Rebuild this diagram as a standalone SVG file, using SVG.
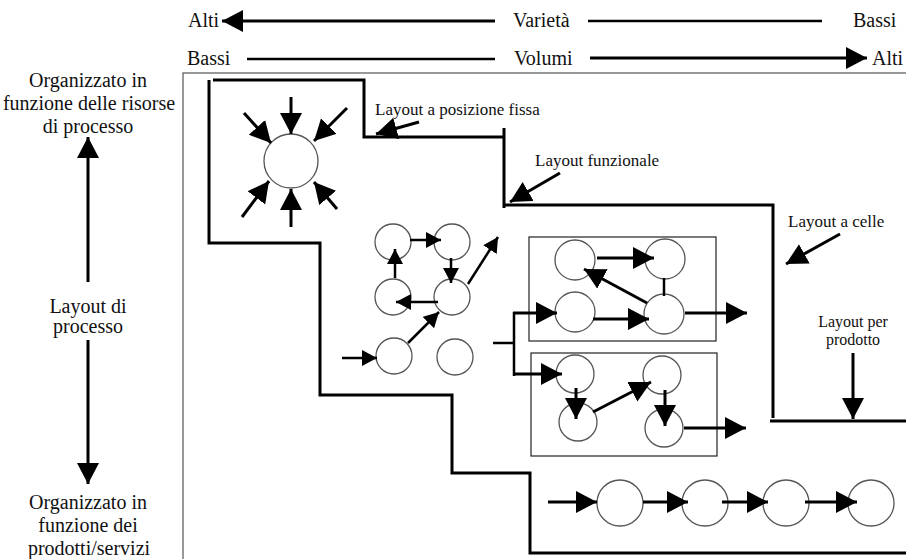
<svg xmlns="http://www.w3.org/2000/svg" width="906" height="559" viewBox="0 0 906 559">
  <style>
    text { font-family: "Liberation Serif", "DejaVu Serif", serif; font-size: 17px; fill: #111; }
    .big { font-size: 20px; }
    .sm { font-size: 16px; }
    .mid { text-anchor: middle; }
    .wall { fill: none; stroke: #000; stroke-width: 3; stroke-linejoin: miter; }
    .arr { fill: none; stroke: #000; stroke-width: 3; marker-end: url(#big); }
    .arr2 { fill: none; stroke: #000; stroke-width: 2.5; marker-end: url(#small); }
    .ln { fill: none; stroke: #000; stroke-width: 2.5; }
    .st { fill: #fff; stroke: #555; stroke-width: 1.3; }
    .cell { fill: none; stroke: #222; stroke-width: 1.2; }
    .frame { fill: none; stroke: #555; stroke-width: 1.2; }
  </style>
  <defs>
    <marker id="big" markerUnits="userSpaceOnUse" markerWidth="24" markerHeight="24" refX="21" refY="11" orient="auto">
      <path d="M0,0 L21,11 L0,22 Z" fill="#000"/>
    </marker>
    <marker id="small" markerUnits="userSpaceOnUse" markerWidth="18" markerHeight="18" refX="15" refY="8" orient="auto">
      <path d="M0,0 L15,8 L0,16 Z" fill="#000"/>
    </marker>
  </defs>

  <rect width="906" height="559" fill="#fff"/>

  <!-- axes along the top: variety and volume -->
  <g id="axis-varieta">
    <text class="big" x="188" y="27">Alti</text>
    <line class="arr" x1="495" y1="21" x2="222" y2="21"/>
    <text class="big" x="513" y="27">Varietà</text>
    <line class="ln" x1="588" y1="21" x2="822" y2="21" stroke-width="3"/>
    <text class="big" x="853" y="27">Bassi</text>
  </g>
  <g id="axis-volumi">
    <text class="big" x="187" y="65">Bassi</text>
    <line class="ln" x1="247" y1="59" x2="495" y2="59" stroke-width="3"/>
    <text class="big" x="514" y="65">Volumi</text>
    <line class="arr" x1="590" y1="58" x2="867" y2="58"/>
    <text class="big" x="872" y="65">Alti</text>
  </g>

  <!-- vertical axis on the left -->
  <g id="axis-processo">
    <text class="big mid" x="88" y="87">Organizzato in</text>
    <text class="big mid" x="89" y="110">funzione delle risorse</text>
    <text class="big mid" x="88" y="133">di processo</text>
    <line class="arr" x1="88" y1="282" x2="88" y2="137"/>
    <text class="big mid" x="88" y="313">Layout di</text>
    <text class="big mid" x="88" y="333">processo</text>
    <line class="arr" x1="88" y1="340" x2="88" y2="484"/>
    <text class="big mid" x="88" y="509">Organizzato in</text>
    <text class="big mid" x="88" y="532">funzione dei</text>
    <text class="big mid" x="89" y="555">prodotti/servizi</text>
  </g>

  <!-- plan area -->
  <rect class="frame" x="183" y="73" width="740" height="500"/>

  <!-- boundaries between the layout zones -->
  <g id="confini">
    <path class="wall" d="M213,80 H364 V137 H504 M504,128 V208 M504,205 H773 V418 M770,421 H906"/>
    <path class="wall" d="M209,80 V243 H320 V395 H452 V473 H530 V553 H906"/>
  </g>

  <!-- fixed-position layout -->
  <g id="posizione-fissa">
    <circle class="st" cx="291" cy="161" r="27"/>
    <line class="arr" x1="291" y1="97" x2="291" y2="134"/>
    <line class="arr" x1="244" y1="113" x2="271" y2="143"/>
    <line class="arr" x1="347" y1="108" x2="314" y2="141"/>
    <line class="arr" x1="242" y1="217" x2="269" y2="181"/>
    <line class="arr" x1="291" y1="227" x2="291" y2="189"/>
    <line class="arr" x1="337" y1="209" x2="314" y2="182"/>
    <text x="375" y="115">Layout a posizione fissa</text>
    <line class="arr" x1="419" y1="122" x2="376" y2="134"/>
  </g>

  <!-- functional layout -->
  <g id="funzionale">
    <text x="535" y="166">Layout funzionale</text>
    <line class="arr" x1="560" y1="173" x2="510" y2="202"/>
    <circle class="st" cx="393" cy="242" r="18"/>
    <circle class="st" cx="452" cy="242" r="18"/>
    <circle class="st" cx="393" cy="297" r="18"/>
    <circle class="st" cx="452" cy="297" r="18"/>
    <circle class="st" cx="394" cy="356" r="18"/>
    <circle class="st" cx="455" cy="357" r="18"/>
    <line class="arr2" x1="410" y1="240" x2="441" y2="240"/>
    <line class="arr2" x1="451" y1="258" x2="451" y2="283"/>
    <line class="arr2" x1="438" y1="302" x2="396" y2="302"/>
    <line class="arr2" x1="395" y1="278" x2="395" y2="249"/>
    <line class="arr2" x1="408" y1="343" x2="439" y2="312"/>
    <line class="arr2" x1="342" y1="358" x2="377" y2="358"/>
    <line class="arr2" x1="468" y1="284" x2="498" y2="237"/>
  </g>

  <!-- cell layout -->
  <g id="celle">
    <text x="788" y="227">Layout a celle</text>
    <line class="arr" x1="840" y1="234" x2="786" y2="264"/>
    <rect class="cell" x="529" y="237" width="187" height="104"/>
    <rect class="cell" x="531" y="353" width="186" height="103"/>
    <circle class="st" cx="575" cy="260" r="20"/>
    <circle class="st" cx="665" cy="259" r="20"/>
    <circle class="st" cx="575" cy="312" r="20"/>
    <circle class="st" cx="664" cy="314" r="20"/>
    <circle class="st" cx="575" cy="374" r="19"/>
    <circle class="st" cx="578" cy="422" r="19"/>
    <circle class="st" cx="662" cy="375" r="19"/>
    <circle class="st" cx="664" cy="428" r="19"/>
    <path class="ln" d="M493,343 H514 M514,312 V376"/>
    <line class="arr" x1="513" y1="313" x2="557" y2="313"/>
    <line class="arr" x1="513" y1="374" x2="562" y2="374"/>
    <line class="arr" x1="597" y1="258" x2="654" y2="258"/>
    <line class="arr" x1="647" y1="303" x2="584" y2="269"/>
    <line class="ln" x1="664" y1="278" x2="664" y2="296"/>
    <line class="arr" x1="593" y1="319" x2="649" y2="319"/>
    <line class="arr" x1="685" y1="313" x2="747" y2="313"/>
    <line class="arr" x1="576" y1="388" x2="576" y2="419"/>
    <line class="arr" x1="593" y1="412" x2="651" y2="382"/>
    <line class="arr" x1="665" y1="390" x2="665" y2="426"/>
    <line class="arr" x1="684" y1="428" x2="746" y2="428"/>
  </g>

  <!-- product layout -->
  <g id="prodotto">
    <text class="sm mid" x="853" y="327">Layout per</text>
    <text class="sm mid" x="853" y="345">prodotto</text>
    <line class="arr" x1="853" y1="353" x2="853" y2="419"/>
    <circle class="st" cx="620" cy="503" r="23"/>
    <circle class="st" cx="705" cy="503" r="23"/>
    <circle class="st" cx="786" cy="503" r="23"/>
    <circle class="st" cx="871" cy="503" r="23"/>
    <line class="arr" x1="548" y1="502" x2="597" y2="502"/>
    <line class="arr" x1="643" y1="502" x2="688" y2="502"/>
    <line class="arr" x1="722" y1="502" x2="768" y2="502"/>
    <line class="arr" x1="805" y1="502" x2="857" y2="502"/>
  </g>
</svg>
